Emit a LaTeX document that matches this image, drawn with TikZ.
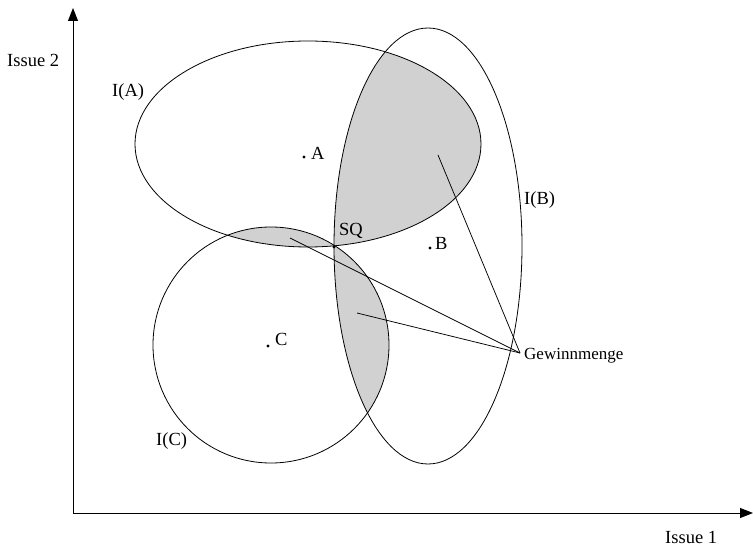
\documentclass[tikz,border=0pt]{standalone}
\usepackage{fontspec}
\setmainfont{Liberation Serif}
\usetikzlibrary{arrows.meta}
\begin{document}
\begin{tikzpicture}[x=1pt,y=-1pt,
  curve/.style={draw=black,line width=0.8pt},
  shadefill/.style={fill=black!18},
  axis/.style={line width=0.9pt,-{Triangle[length=13pt,width=10pt]}},
  lbl/.style={inner sep=0pt,font=\fontsize{18.5}{20}\selectfont},
  gwl/.style={inner sep=0pt,font=\fontsize{17}{19}\selectfont},
  pt/.style={circle,fill=black,inner sep=0pt,minimum size=3.4pt},
  pointer/.style={line width=0.75pt}]
\useasboundingbox (0,0) rectangle (753,548);
% shaded win-sets
\begin{scope}
  \clip (308,144) ellipse [x radius=173pt, y radius=103pt];
  \fill[shadefill] (428,246) ellipse [x radius=94pt, y radius=218pt];
  \fill[shadefill] (271,345) circle [radius=118pt];
\end{scope}
\begin{scope}
  \clip (428,246) ellipse [x radius=94pt, y radius=218pt];
  \fill[shadefill] (271,345) circle [radius=118pt];
\end{scope}
% indifference curves
\draw[curve] (308,144) ellipse [x radius=173pt, y radius=103pt];
\draw[curve] (428,246) ellipse [x radius=94pt, y radius=218pt];
\draw[curve] (271,345) circle [radius=118pt];
% axes
\coordinate (O) at (73,513);
\coordinate (ytop) at (73,8);
\coordinate (xend) at (753,513);
\draw[axis] (O) -- (ytop);
\draw[axis] (O) -- (xend);
% labels
\node[lbl,anchor=west] (iss2) at (7,60) {Issue 2};
\node[lbl,anchor=west] (iss1) at (665,537) {Issue 1};
\node[lbl,anchor=west] (IA) at (112,92) {I(A)};
\node[lbl,anchor=west] (IB) at (524,200) {I(B)};
\node[lbl,anchor=west] (IC) at (156,441) {I(C)};
% ideal points
\node[pt] (a) at (304,157) {};
\node[lbl,anchor=west] (la) at (311,153) {A};
\node[pt] (b) at (430,248) {};
\node[lbl,anchor=west] (lb) at (435,243) {B};
\node[pt] (c) at (268,346) {};
\node[lbl,anchor=west] (lc) at (275,339) {C};
\node[pt] (sq) at (334,247) {};
\node[lbl,anchor=west] (lsq) at (339,231) {SQ};
% Gewinnmenge
\node[gwl,anchor=west] (gw) at (524,356) {Gewinnmenge};
\coordinate (meet) at (520,353);
\coordinate (g1) at (438,155);
\coordinate (g2) at (290,238);
\coordinate (g3) at (357,313);
\draw[pointer] (g1) -- (meet);
\draw[pointer] (g2) -- (meet);
\draw[pointer] (g3) -- (meet);
\end{tikzpicture}
\end{document}
